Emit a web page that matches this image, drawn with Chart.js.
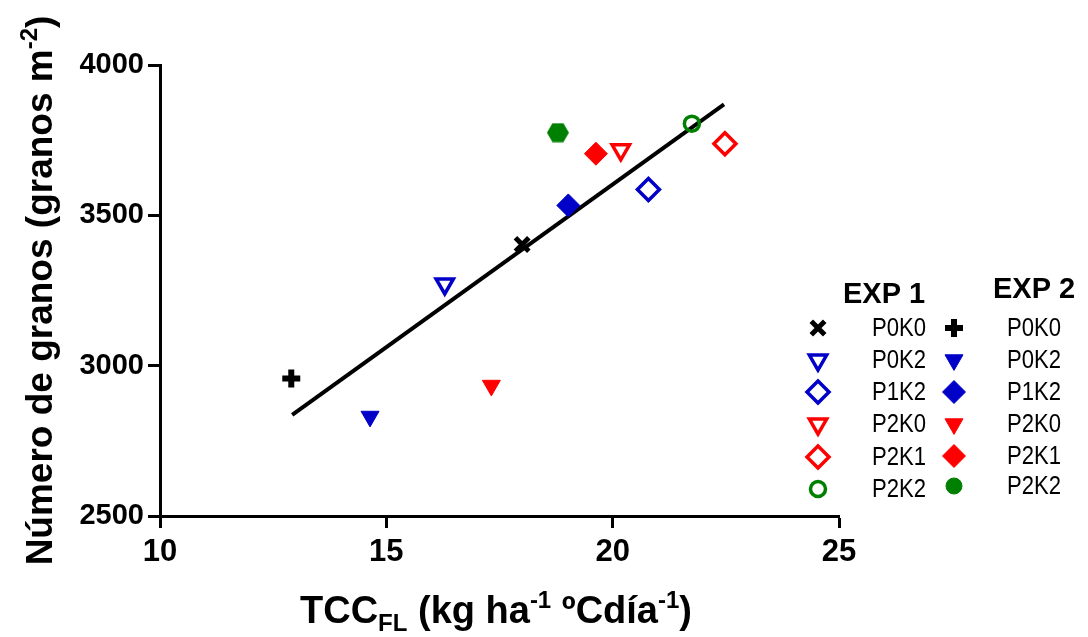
<!DOCTYPE html>
<html>
<head>
<meta charset="utf-8">
<script src="https://cdn.jsdelivr.net/npm/chart.js"></script>
<style>
  body { margin: 0; background: #fff; }
</style>
</head>
<body>
<canvas id="grainChart" width="1088" height="637"></canvas>
<script>
// treatments shared by both experiments
const treatments = ['P0K0', 'P0K2', 'P1K2', 'P2K0', 'P2K1', 'P2K2'];

// EXP 1 (open symbols)
const exp1X = [18.0, 16.29, 20.79, 20.18, 22.48, 21.75];
const exp1Y = [3403, 3272, 3586, 3718, 3738, 3805];

// EXP 2 (filled symbols)
const exp2X = [12.90, 14.64, 19.02, 17.32, 19.63, 18.79];
const exp2Y = [2957, 2831, 3533, 2934, 3705, 3775];

// regression line end points
const fitX = [12.92, 22.46];
const fitY = [2836, 3869];

const xRange = [10, 25];
const yRange = [2500, 4000];
const xStep = 5;
const yStep = 500;

const FONT = "'Liberation Sans', Arial, Helvetica, sans-serif";
const BLUE = '#0000c8';
const RED = '#ff0000';
const GREEN = '#008000';

// filled hexagon used for EXP 2 P2K2 in the plot
function makeHexagon(r, color) {
    const c = document.createElement('canvas');
    c.width = Math.ceil(2 * r);
    c.height = Math.ceil(Math.sqrt(3) * r);
    const g = c.getContext('2d');
    g.fillStyle = color;
    g.beginPath();
    for (let i = 0; i < 6; i++) {
        const a = Math.PI / 3 * i;
        const px = c.width / 2 + r * Math.cos(a);
        const py = c.height / 2 + r * Math.sin(a);
        if (i === 0) g.moveTo(px, py); else g.lineTo(px, py);
    }
    g.closePath();
    g.fill();
    return c;
}
const hexagon = makeHexagon(11, GREEN);

const exp1Style = {
    pointStyle: ['crossRot', 'triangle', 'rectRot', 'triangle', 'rectRot', 'circle'],
    radius: [9.5, 10, 11, 10, 11, 7.5],
    rotation: [0, 180, 0, 180, 0, 0],
    border: ['#000', BLUE, BLUE, RED, RED, GREEN],
    fill: ['#000', 'rgba(0,0,0,0)', 'rgba(0,0,0,0)', 'rgba(0,0,0,0)', 'rgba(0,0,0,0)', 'rgba(0,0,0,0)'],
    width: [5, 3.5, 3.5, 3.5, 3.5, 3.5]
};
const exp2Style = {
    pointStyle: ['cross', 'triangle', 'rectRot', 'triangle', 'rectRot', hexagon],
    legendStyle: ['cross', 'triangle', 'rectRot', 'triangle', 'rectRot', 'circle'],
    radius: [9, 10.4, 11.5, 10.4, 11.5, 8],
    rotation: [0, 180, 0, 180, 0, 0],
    border: ['#000', BLUE, BLUE, RED, RED, GREEN],
    fill: ['#000', BLUE, BLUE, RED, RED, GREEN],
    width: [6, 1, 1, 1, 1, 1]
};

function toPoints(xs, ys) {
    return xs.map((x, i) => ({ x: x, y: ys[i] }));
}

function drawRich(ctx, parts, size, x, y) {
    const fontFor = p => 'bold ' + (p.m ? Math.round(size * 0.64) : size) + 'px ' + FONT;
    let total = 0;
    parts.forEach(p => { ctx.font = fontFor(p); total += ctx.measureText(p.t).width; });
    let cx = x - total / 2;
    parts.forEach(p => {
        ctx.font = fontFor(p);
        const dy = p.m === 'sup' ? -0.4 * size : p.m === 'sub' ? 0.2 * size : 0;
        ctx.fillText(p.t, cx, y + dy);
        cx += ctx.measureText(p.t).width;
    });
}

const yTitle = [{ t: 'Número de granos (granos m' }, { t: '-2', m: 'sup' }, { t: ')' }];
const xTitle = [
    { t: 'TCC' }, { t: 'FL', m: 'sub' }, { t: ' (kg ha' }, { t: '-1', m: 'sup' },
    { t: ' ºCdía' }, { t: '-1', m: 'sup' }, { t: ')' }
];

const extrasPlugin = {
    id: 'extras',
    afterDraw(chart) {
        const ctx = chart.ctx;
        const area = chart.chartArea;
        ctx.save();
        ctx.fillStyle = '#000';
        ctx.textAlign = 'left';
        ctx.textBaseline = 'alphabetic';

        // axis titles
        drawRich(ctx, xTitle, 38, 496, 623);
        ctx.save();
        ctx.translate(52, (area.top + area.bottom) / 2);
        ctx.rotate(-Math.PI / 2);
        drawRich(ctx, yTitle, 37, 0, 0);
        ctx.restore();

        // legend
        ctx.font = 'bold 29px ' + FONT;
        ctx.fillText('EXP 1', 843, 303);
        ctx.fillText('EXP 2', 993, 298);
        ctx.textBaseline = 'middle';
        const rows1 = [328, 360, 392, 424, 457, 489];
        const rows2 = [328, 360, 392, 424, 456, 486];
        treatments.forEach((name, i) => {
            ctx.font = '23px ' + FONT;
            ctx.save();
            ctx.translate(872, rows1[i] + 1);
            ctx.scale(0.96, 1.1);
            ctx.fillText(name, 0, 0);
            ctx.restore();
            ctx.save();
            ctx.translate(1007, rows2[i] + 1);
            ctx.scale(0.96, 1.1);
            ctx.fillText(name, 0, 0);
            ctx.restore();

            ctx.strokeStyle = exp1Style.border[i];
            ctx.fillStyle = exp1Style.fill[i];
            ctx.lineWidth = exp1Style.width[i];
            Chart.helpers.drawPoint(ctx, {
                pointStyle: exp1Style.pointStyle[i], radius: exp1Style.radius[i],
                rotation: exp1Style.rotation[i], borderWidth: exp1Style.width[i]
            }, 818, rows1[i]);

            ctx.strokeStyle = exp2Style.border[i];
            ctx.fillStyle = exp2Style.fill[i];
            ctx.lineWidth = exp2Style.width[i];
            Chart.helpers.drawPoint(ctx, {
                pointStyle: exp2Style.legendStyle[i], radius: exp2Style.radius[i],
                rotation: exp2Style.rotation[i], borderWidth: exp2Style.width[i]
            }, 954, rows2[i]);
            ctx.fillStyle = '#000';
        });
        ctx.restore();
    }
};

const axisGrid = {
    drawOnChartArea: false,
    drawTicks: true,
    tickLength: 12,
    tickWidth: 3,
    tickColor: '#000'
};

new Chart(document.getElementById('grainChart').getContext('2d'), {
    type: 'scatter',
    data: {
        datasets: [
            {
                label: 'EXP 1',
                data: toPoints(exp1X, exp1Y),
                pointStyle: exp1Style.pointStyle,
                pointRadius: exp1Style.radius,
                pointRotation: exp1Style.rotation,
                pointBorderColor: exp1Style.border,
                pointBackgroundColor: exp1Style.fill,
                pointBorderWidth: exp1Style.width
            },
            {
                label: 'EXP 2',
                data: toPoints(exp2X, exp2Y),
                pointStyle: exp2Style.pointStyle,
                pointRadius: exp2Style.radius,
                pointRotation: exp2Style.rotation,
                pointBorderColor: exp2Style.border,
                pointBackgroundColor: exp2Style.fill,
                pointBorderWidth: exp2Style.width
            },
            {
                type: 'line',
                label: 'Ajuste',
                data: toPoints(fitX, fitY),
                borderColor: '#000',
                borderWidth: 4,
                pointRadius: 0,
                fill: false
            }
        ]
    },
    options: {
        responsive: false,
        animation: false,
        events: [],
        layout: { padding: { top: 65, right: 249, left: 0, bottom: 0 } },
        plugins: {
            legend: { display: false },
            tooltip: { enabled: false }
        },
        scales: {
            x: {
                type: 'linear',
                min: xRange[0],
                max: xRange[1],
                ticks: {
                    stepSize: xStep,
                    color: '#000',
                    padding: 6,
                    font: { family: FONT, size: 31, weight: 'bold' },
                    callback: v => String(v)
                },
                grid: axisGrid,
                border: { color: '#000', width: 3 },
                afterFit(scale) { scale.height = 121; }
            },
            y: {
                type: 'linear',
                min: yRange[0],
                max: yRange[1],
                ticks: {
                    stepSize: yStep,
                    color: '#000',
                    padding: 4,
                    font: { family: FONT, size: 29, weight: 'bold' },
                    callback: v => String(v)
                },
                grid: axisGrid,
                border: { color: '#000', width: 3 },
                afterFit(scale) { scale.width = 160; }
            }
        }
    },
    plugins: [extrasPlugin]
});
</script>
</body>
</html>
